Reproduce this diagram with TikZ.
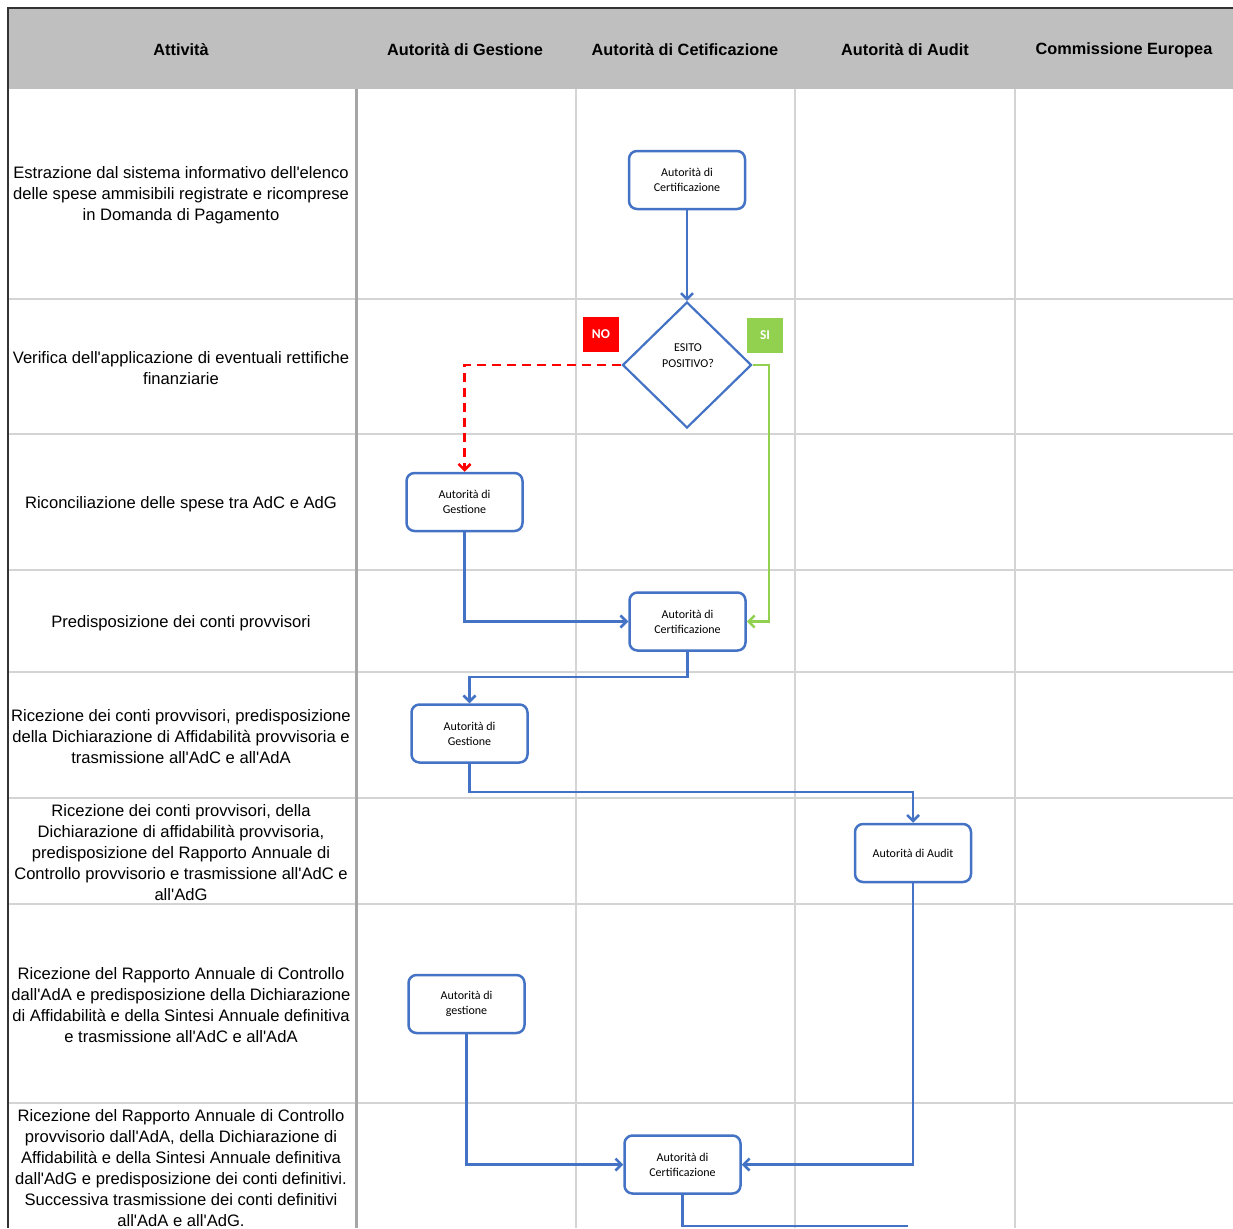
\documentclass[tikz,border=0pt]{standalone}
\usepackage{fontspec}
\usetikzlibrary{shapes.geometric,arrows.meta}
\newfontfamily\arial{Liberation Sans}
\newfontfamily\calib{Carlito}
\definecolor{boxblue}{HTML}{4472C4}
\definecolor{hdrgrey}{HTML}{BFBFBF}
\definecolor{gridgrey}{HTML}{D4D4D4}
\definecolor{sepgrey}{HTML}{A6A6A6}
\definecolor{sigreen}{HTML}{92D050}
\tikzset{
  hdr/.style={font=\arial\bfseries\fontsize{16.3}{20}\selectfont, anchor=center},
  act/.style={font=\arial\fontsize{16.6}{21}\selectfont, align=center, anchor=center, inner sep=0pt},
  flowbox/.style={draw=boxblue, line width=2.5pt, rounded corners=8pt, fill=white,
     minimum width=116pt, minimum height=58pt, align=center, inner sep=1pt,
     font=\calib\fontsize{12}{15}\selectfont},
  decision/.style={diamond, draw=boxblue, line width=2.2pt, fill=white,
     minimum width=129pt, minimum height=126pt, inner sep=0pt},
  dectext/.style={align=center, inner sep=0pt, font=\calib\fontsize{12}{16}\selectfont},
  tag/.style={minimum width=36pt, minimum height=35pt, inner sep=0pt, text=white,
     font=\calib\bfseries\fontsize{13.5}{14}\selectfont},
  flow/.style={draw=boxblue, line width=2.5pt, -{Straight Barb[length=6pt,width=12pt]}},
  nflow/.style={draw=red, line width=2.5pt, dash pattern=on 9pt off 6pt, -{Straight Barb[length=6pt,width=12pt]}},
  yflow/.style={draw=sigreen, line width=2.5pt, -{Straight Barb[length=6pt,width=12pt]}},
  gridline/.style={draw=gridgrey, line width=1.2pt},
}
\begin{document}
\begin{tikzpicture}[x=1pt,y=-1pt]
\useasboundingbox (0,0) rectangle (1233,1228);
% header
\fill[hdrgrey] (8,8) rectangle (1233,89);
% grid
\foreach \yy in {299,434,570,672,798,904,1103}
  \draw[gridline] (8,\yy) -- (1233,\yy);
\foreach \xx in {576,795,1015}
  \draw[gridline] (\xx,89) -- (\xx,1228);
\draw[draw=sepgrey, line width=3pt] (356,89) -- (356,1228);
\draw[line width=1.5pt, draw=black!80] (1233,8) -- (8,8) -- (8,1228);
% header texts
\node[hdr] (h1) at (181,50) {Attività};
\node[hdr] (h2) at (465,50) {Autorità di Gestione};
\node[hdr] (h3) at (685,50) {Autorità di Cetificazione};
\node[hdr] (h4) at (905,50) {Autorità di Audit};
\node[hdr] (h5) at (1124,50) {Commissione Europea};
% activity texts
\node[act] (t1) at (181,195.5) {Estrazione dal sistema informativo dell'elenco\\delle spese ammisibili registrate e ricomprese\\in Domanda di Pagamento};
\node[act] (t2) at (181,368.5) {Verifica dell'applicazione di eventuali rettifiche\\finanziarie};
\node[act] (t3) at (181,504) {Riconciliazione delle spese tra AdC e AdG};
\node[act] (t4) at (181,623) {Predisposizione dei conti provvisori};
\node[act] (t5) at (181,737) {Ricezione dei conti provvisori, predisposizione\\della Dichiarazione di Affidabilità provvisoria e\\trasmissione all'AdC e all'AdA};
\node[act] (t6) at (181,853) {Ricezione dei conti provvisori, della\\Dichiarazione di affidabilità provvisoria,\\predisposizione del Rapporto Annuale di\\Controllo provvisorio e trasmissione all'AdC e\\all'AdG};
\node[act] (t7) at (181,1005.5) {Ricezione del Rapporto Annuale di Controllo\\dall'AdA e predisposizione della Dichiarazione\\di Affidabilità e della Sintesi Annuale definitiva\\e trasmissione all'AdC e all'AdA};
\node[act] (t8) at (181,1168.5) {Ricezione del Rapporto Annuale di Controllo\\provvisorio dall'AdA, della Dichiarazione di\\Affidabilità e della Sintesi Annuale definitiva\\dall'AdG e predisposizione dei conti definitivi.\\Successiva trasmissione dei conti definitivi\\all'AdA e all'AdG.};
% flow nodes
\node[flowbox] (c1) at (687,180) {Autorità di\\Certificazione};
\node[decision] (dec) at (687,365) {};
\node[dectext] (dectxt) at (688,355.5) {ESITO\\POSITIVO?};
\node[tag, fill=red] (no) at (601,334.5) {NO};
\node[tag, fill=sigreen] (si) at (765,335.5) {SI};
\node[flowbox] (g1) at (464.5,502) {Autorità di\\Gestione};
\node[flowbox] (c2) at (687.5,621.5) {Autorità di\\Certificazione};
\node[flowbox] (g2) at (469.5,733.5) {Autorità di\\Gestione};
\node[flowbox] (a1) at (913,853) {Autorità di Audit};
\node[flowbox] (g3) at (466.5,1004) {Autorità di\\gestione};
\node[flowbox] (c3) at (682.5,1164.5) {Autorità di\\Certificazione};
\coordinate (gx) at (769,365);
\coordinate (endpt) at (908,1226);
% connectors
\draw[flow] (c1.south) -- (dec.north);
\draw[nflow] (dec.west) -| (g1.north);
\draw[yflow] (dec.east) -- (gx) |- (c2.east);
\draw[flow] (g1.south) |- (c2.west);
\draw[flow] (c2.south) -- (c2.south |- 0,677) -| (g2.north);
\draw[flow] (g2.south) -- (g2.south |- 0,792) -| (a1.north);
\draw[flow] (a1.south) |- (c3.east);
\draw[flow] (g3.south) |- (c3.west);
\draw[draw=boxblue, line width=2.5pt] (c3.south) |- (endpt);
\end{tikzpicture}
\end{document}
